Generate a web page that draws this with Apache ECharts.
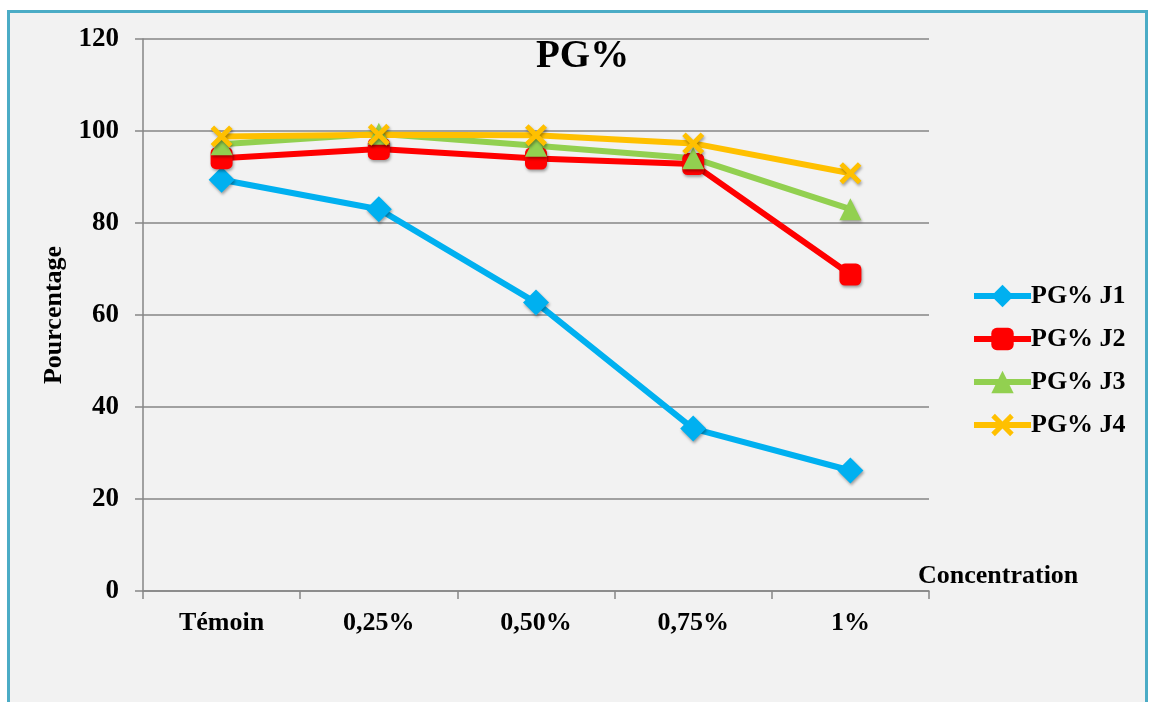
<!DOCTYPE html>
<html>
<head>
<meta charset="utf-8">
<script src="https://cdn.jsdelivr.net/npm/echarts@6/dist/echarts.min.js"></script>
<style>
  html, body { margin: 0; padding: 0; background: #ffffff; }
  #chart { width: 1154px; height: 702px; }
</style>
</head>
<body>
<div id="chart"></div>
<script>
// Concentrations tested
const categories = ['Témoin', '0,25%', '0,50%', '0,75%', '1%'];
// Germination percentage per day of reading
const pgJ1 = [89.4, 83, 62.7, 35.3, 26.2];
const pgJ2 = [94.1, 96.1, 94, 92.8, 68.8];
const pgJ3 = [97.1, 99.4, 96.8, 94.1, 83];
const pgJ4 = [98.8, 99.2, 99.1, 97.3, 90.8];
const seriesNames = ['PG% J1', 'PG% J2', 'PG% J3', 'PG% J4'];
const yTicks = [0, 20, 40, 60, 80, 100, 120];

const serif = '"Liberation Serif", "DejaVu Serif", serif';
const crossPath = 'path://M0,1.6 L1.6,0 L5,3.4 L8.4,0 L10,1.6 L6.6,5 L10,8.4 L8.4,10 L5,6.6 L1.6,10 L0,8.4 L3.4,5 Z';

const shadow = { shadowBlur: 3, shadowColor: 'rgba(0,0,0,0.35)', shadowOffsetX: 1, shadowOffsetY: 2 };

function makeSeries(name, data, color, symbol, size) {
  return {
    name: name,
    type: 'line',
    data: data,
    symbol: symbol,
    symbolSize: size,
    lineStyle: { color: color, width: 6 },
    itemStyle: Object.assign({ color: color }, shadow),
    emphasis: { disabled: true },
    animation: false
  };
}

const chart = echarts.init(document.getElementById('chart'), null, { renderer: 'canvas' });
chart.setOption({
  backgroundColor: '#ffffff',
  animation: false,
  graphic: [
    {
      type: 'rect',
      z: -10,
      shape: { x: 8.5, y: 11.5, width: 1138, height: 700 },
      style: { fill: '#f2f2f2', stroke: '#4bacc6', lineWidth: 3 }
    },
    {
      type: 'text',
      left: 918,
      top: 563,
      style: { text: 'Concentration', font: 'bold 26px ' + serif, fill: '#000' }
    }
  ],
  title: {
    text: 'PG%',
    left: 531,
    top: 32,
    textStyle: { fontFamily: serif, fontWeight: 'bold', fontSize: 39, color: '#000' }
  },
  legend: {
    orient: 'vertical',
    left: 966,
    top: 278,
    itemWidth: 57,
    itemHeight: 28,
    itemGap: 17,
    data: seriesNames,
    lineStyle: { width: 6 },
    textStyle: { fontFamily: serif, fontWeight: 'bold', fontSize: 26, color: '#000', padding: [0, 0, 0, -5] }
  },
  grid: { left: 143, right: 225, top: 39, bottom: 111, containLabel: false },
  xAxis: {
    type: 'category',
    data: categories,
    boundaryGap: true,
    axisLine: { lineStyle: { color: '#868686', width: 1.5 } },
    axisTick: { show: true, length: 8, alignWithLabel: false, lineStyle: { color: '#868686', width: 1.5 } },
    axisLabel: { margin: 19, fontFamily: serif, fontWeight: 'bold', fontSize: 26, color: '#000' },
    splitLine: { show: false }
  },
  yAxis: {
    type: 'value',
    min: yTicks[0],
    max: yTicks[yTicks.length - 1],
    interval: 20,
    name: 'Pourcentage',
    nameLocation: 'middle',
    nameRotate: 90,
    nameGap: 72,
    nameTextStyle: { fontFamily: serif, fontWeight: 'bold', fontSize: 26, color: '#000' },
    axisLine: { show: true, lineStyle: { color: '#868686', width: 1.5 } },
    axisTick: { show: true, length: 8, lineStyle: { color: '#868686', width: 1.5 } },
    axisLabel: { margin: 24, fontFamily: serif, fontWeight: 'bold', fontSize: 27, color: '#000' },
    splitLine: { show: true, lineStyle: { color: '#868686', width: 1.5 } }
  },
  series: [
    makeSeries(seriesNames[0], pgJ1, '#00b0f0', 'diamond', 26),
    makeSeries(seriesNames[1], pgJ2, '#ff0000', 'roundRect', 22),
    makeSeries(seriesNames[2], pgJ3, '#92d050', 'triangle', 22),
    makeSeries(seriesNames[3], pgJ4, '#ffc000', crossPath, 22)
  ]
});
</script>
</body>
</html>
